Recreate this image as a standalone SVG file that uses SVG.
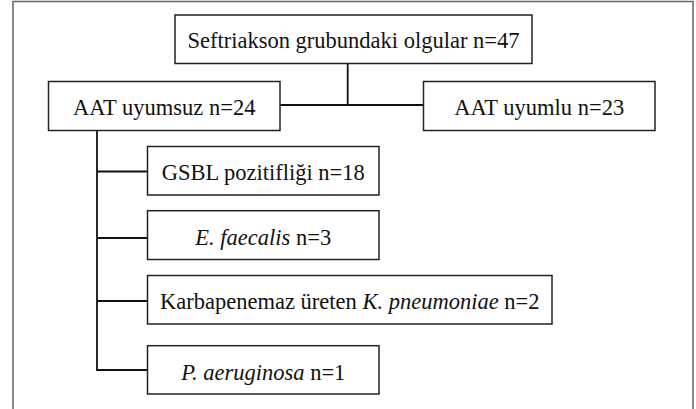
<svg xmlns="http://www.w3.org/2000/svg" width="696" height="409" viewBox="0 0 696 409">
<style>
.frame{fill:none;stroke:#666;stroke-width:1.5}
.box rect{fill:#fff;stroke:#222;stroke-width:1.5}
.box text{font-family:"Liberation Serif","Times New Roman",serif;font-size:22.5px;fill:#111;text-anchor:middle}
.it{font-style:italic}
#connectors path{fill:none;stroke:#111;stroke-width:1.8}
</style>
<rect width="696" height="409" fill="#fff"/>
<path class="frame" d="M13,412 V1.5 H693 V412"/>
<g id="connectors">
<path d="M347.7,63.5 V105 M280,105 H423.5"/>
<path d="M97,130.5 V370 H147.5 M97,171.5 H147.5 M97,238 H147.5 M97,301 H147.5"/>
</g>
<g id="n-root" class="box">
<rect x="175" y="15" width="357" height="48.5"/>
<text x="353.5" y="48">Seftriakson grubundaki olgular n=47</text>
</g>
<g id="n-uyumsuz" class="box">
<rect x="48.5" y="81.5" width="231.5" height="49"/>
<text x="164.25" y="115">AAT uyumsuz n=24</text>
</g>
<g id="n-uyumlu" class="box">
<rect x="423.5" y="81.5" width="231.5" height="49"/>
<text x="539.25" y="115">AAT uyumlu n=23</text>
</g>
<g id="n-gsbl" class="box">
<rect x="147.5" y="146.5" width="231.5" height="48.5"/>
<text x="263.25" y="180">GSBL pozitifliği n=18</text>
</g>
<g id="n-efaecalis" class="box">
<rect x="147.5" y="210.7" width="231.5" height="48.8"/>
<text x="263.25" y="244.5"><tspan class="it">E. faecalis</tspan> n=3</text>
</g>
<g id="n-kpneumoniae" class="box">
<rect x="147.5" y="275.5" width="404.5" height="48.5"/>
<text x="349.75" y="309">Karbapenemaz üreten <tspan class="it">K. pneumoniae</tspan> n=2</text>
</g>
<g id="n-paeruginosa" class="box">
<rect x="147.5" y="345.7" width="231.5" height="48.3"/>
<text x="263.25" y="379.5"><tspan class="it">P. aeruginosa</tspan> n=1</text>
</g>
</svg>
